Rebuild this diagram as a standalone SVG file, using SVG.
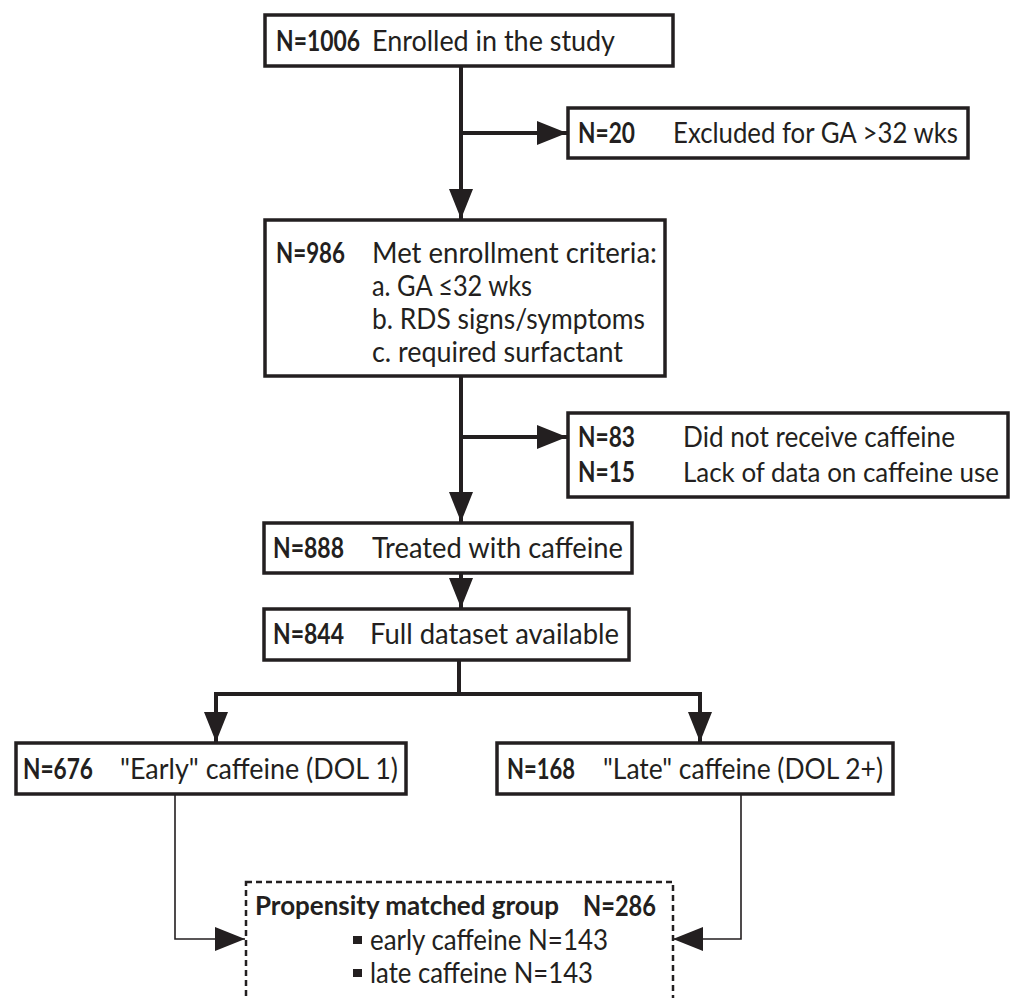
<svg xmlns="http://www.w3.org/2000/svg" width="1016" height="998" viewBox="0 0 1016 998">
<style>
.box{fill:#fff;stroke:#231f20;stroke-width:3.5}
.dash{fill:#fff;stroke:#231f20;stroke-width:2.5;stroke-dasharray:6 4}
.t{font-family:Lato,"Liberation Sans",sans-serif;font-size:29px;fill:#231f20}
.s{font-size:27px}
.b{font-weight:bold}
.thick{fill:none;stroke:#231f20;stroke-width:4}
.thin{fill:none;stroke:#231f20;stroke-width:1.6}
</style>
<defs>
<marker id="ah" markerUnits="userSpaceOnUse" markerWidth="32" markerHeight="24" refX="30" refY="12" orient="auto" viewBox="0 0 32 24">
<path d="M0,0 L30,12 L0,24 z" fill="#231f20"/>
</marker>
</defs>
<g id="connectors">
<path class="thick" d="M461,66 V219" marker-end="url(#ah)"/>
<path class="thick" d="M461,133 H567" marker-end="url(#ah)"/>
<path class="thick" d="M461,376 V522" marker-end="url(#ah)"/>
<path class="thick" d="M461,437 H567" marker-end="url(#ah)"/>
<path class="thick" d="M461,573 V608" marker-end="url(#ah)"/>
<path class="thick" d="M459,660 V694"/>
<path class="thick" d="M216,742 V694 H700 V742"/>
<path class="thick" d="M216,700 V742" marker-end="url(#ah)"/>
<path class="thick" d="M700,700 V742" marker-end="url(#ah)"/>
<path class="thin" d="M175,794 V939 H245" marker-end="url(#ah)"/>
<path class="thin" d="M741,794 V939 H673" marker-end="url(#ah)"/>
</g>
<g id="n1006">
<rect class="box" x="265" y="15" width="408" height="51"/>
<text class="t b" x="276" y="51" textLength="84" lengthAdjust="spacingAndGlyphs">N=1006</text>
<text class="t" x="372" y="51" textLength="243" lengthAdjust="spacingAndGlyphs">Enrolled in the study</text>
</g>
<g id="n20">
<rect class="box" x="568" y="108" width="400" height="50"/>
<text class="t b" x="578" y="143" textLength="57" lengthAdjust="spacingAndGlyphs">N=20</text>
<text class="t" x="673" y="143" textLength="285" lengthAdjust="spacingAndGlyphs">Excluded for GA &gt;32 wks</text>
</g>
<g id="n986">
<rect class="box" x="265" y="220" width="400" height="156"/>
<text class="t b" x="276" y="263" textLength="69" lengthAdjust="spacingAndGlyphs">N=986</text>
<text class="t" x="372" y="263" textLength="285" lengthAdjust="spacingAndGlyphs">Met enrollment criteria:</text>
<text class="t" x="372" y="296" textLength="160" lengthAdjust="spacingAndGlyphs">a. GA ≤32 wks</text>
<text class="t" x="372" y="329" textLength="273" lengthAdjust="spacingAndGlyphs">b. RDS signs/symptoms</text>
<text class="t" x="372" y="362" textLength="251" lengthAdjust="spacingAndGlyphs">c. required surfactant</text>
</g>
<g id="n83">
<rect class="box" x="568" y="413" width="440" height="84"/>
<text class="t b" x="578" y="447" textLength="57" lengthAdjust="spacingAndGlyphs">N=83</text>
<text class="t" x="683" y="447" textLength="272" lengthAdjust="spacingAndGlyphs">Did not receive caffeine</text>
<text class="t b" x="578" y="482" textLength="57" lengthAdjust="spacingAndGlyphs">N=15</text>
<text class="t s" x="683" y="482" textLength="316" lengthAdjust="spacingAndGlyphs">Lack of data on caffeine use</text>
</g>
<g id="n888">
<rect class="box" x="264" y="523" width="368" height="50"/>
<text class="t b" x="273" y="558" textLength="71" lengthAdjust="spacingAndGlyphs">N=888</text>
<text class="t" x="372" y="558" textLength="251" lengthAdjust="spacingAndGlyphs">Treated with caffeine</text>
</g>
<g id="n844">
<rect class="box" x="264" y="609" width="365" height="51"/>
<text class="t b" x="273" y="644" textLength="71" lengthAdjust="spacingAndGlyphs">N=844</text>
<text class="t" x="370" y="644" textLength="249" lengthAdjust="spacingAndGlyphs">Full dataset available</text>
</g>
<g id="n676">
<rect class="box" x="16" y="743" width="390" height="51"/>
<text class="t b" x="23" y="779" textLength="70" lengthAdjust="spacingAndGlyphs">N=676</text>
<text class="t" x="120" y="779" textLength="278" lengthAdjust="spacingAndGlyphs">"Early" caffeine (DOL 1)</text>
</g>
<g id="n168">
<rect class="box" x="497" y="743" width="396" height="51"/>
<text class="t b" x="507" y="779" textLength="68" lengthAdjust="spacingAndGlyphs">N=168</text>
<text class="t" x="603" y="779" textLength="280" lengthAdjust="spacingAndGlyphs">"Late" caffeine (DOL 2+)</text>
</g>
<g id="matched">
<rect class="dash" x="246" y="882" width="427" height="140"/>
<text class="t b s" x="255" y="915" textLength="304" lengthAdjust="spacingAndGlyphs">Propensity matched group</text>
<text class="t b" x="583" y="916" textLength="73" lengthAdjust="spacingAndGlyphs">N=286</text>
<rect x="353" y="936" width="9" height="8" fill="#231f20"/>
<text class="t" x="370" y="950" textLength="238" lengthAdjust="spacingAndGlyphs">early caffeine N=143</text>
<rect x="353" y="969" width="9" height="8" fill="#231f20"/>
<text class="t" x="370" y="983" textLength="223" lengthAdjust="spacingAndGlyphs">late caffeine N=143</text>
</g>
</svg>
